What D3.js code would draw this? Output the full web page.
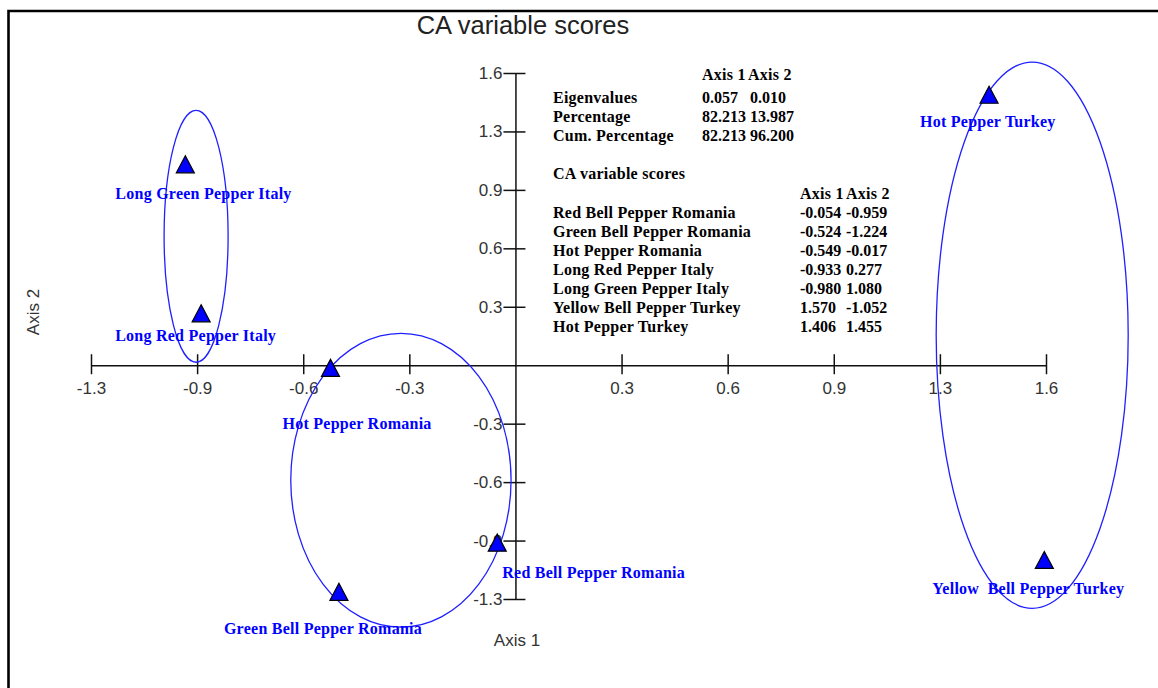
<!DOCTYPE html>
<html>
<head>
<meta charset="utf-8">
<script src="https://cdn.jsdelivr.net/npm/d3@7"></script>
<style>
  body { margin: 0; background: #fff; }
  svg { display: block; background: #fff; }
  .tick text { font-family: "Liberation Sans", Arial, sans-serif; font-size: 17px; fill: #333; }
  .ptlabel, .tbl { font-family: "Liberation Serif", "Times New Roman", serif; font-size: 16px; font-weight: bold; white-space: pre; letter-spacing: 0.25px; }
  .tbl .num { letter-spacing: 0; }
</style>
</head>
<body>
<svg></svg>
<script>
const width = 1158;
const height = 688;

// CA scores
const names = ["Red Bell Pepper Romania", "Green Bell Pepper Romania", "Hot Pepper Romania",
               "Long Red Pepper Italy", "Long Green Pepper Italy", "Yellow  Bell Pepper Turkey", "Hot Pepper Turkey"];
const axis1Scores = [-0.054, -0.524, -0.549, -0.933, -0.980, 1.570, 1.406];
const axis2Scores = [-0.959, -1.224, -0.017, 0.277, 1.080, -1.052, 1.455];

const summaryRows = ["Eigenvalues", "Percentage", "Cum. Percentage"];
const summaryAxis1 = [0.057, 82.213, 82.213];
const summaryAxis2 = [0.010, 13.987, 96.200];

// ticks (step ~0.315, labels as printed)
const tickValues = [-1.26, -0.945, -0.63, -0.315, 0.315, 0.63, 0.945, 1.26, 1.575];
const tickLabels = ["-1.3", "-0.9", "-0.6", "-0.3", "0.3", "0.6", "0.9", "1.3", "1.6"];

// group ellipses, in score units
const groupCentre1 = [-0.948, -0.340, 1.534];
const groupCentre2 = [0.695, -0.620, 0.162];
const groupRadius1 = [0.095, 0.327, 0.285];
const groupRadius2 = [0.679, 0.792, 1.472];

// label offsets from each point (px)
const labelDx = [5, -115, -48, -86, -70, -112, -69];
const labelDy = [35, 42, 61, 27, 34, 34, 32];

const blue = "#0000ff";

const svg = d3.select("svg")
  .attr("width", width)
  .attr("height", height);

const xScale = d3.scaleLinear()
  .domain([-1.26, 1.575])
  .range([91, 1046]);

const yScale = d3.scaleLinear()
  .domain([-1.26, 1.575])
  .range([599, 73]);

// frame (top and left only, cropped figure)
svg.append("path")
  .attr("d", `M8.5,${height} V11 H${width}`)
  .attr("fill", "none")
  .attr("stroke", "#000")
  .attr("stroke-width", 2.6);

svg.append("text")
  .attr("x", 523)
  .attr("y", 34)
  .attr("text-anchor", "middle")
  .style("font-family", "'Liberation Sans', Arial, sans-serif")
  .style("font-size", "25.5px")
  .style("fill", "#222")
  .text("CA variable scores");

const xAxis = d3.axisBottom(xScale)
  .tickValues(tickValues)
  .tickFormat((d, i) => tickLabels[i])
  .tickSizeOuter(0);

const yAxis = d3.axisLeft(yScale)
  .tickValues(tickValues)
  .tickFormat((d, i) => tickLabels[i])
  .tickSizeOuter(0);

const gx = svg.append("g")
  .attr("transform", `translate(0,${yScale(0)})`)
  .call(xAxis);
gx.select(".domain").attr("stroke", "#111").attr("stroke-width", 1.5);
gx.selectAll(".tick line").attr("y1", -11).attr("y2", 9).attr("stroke", "#111").attr("stroke-width", 1.5);
gx.selectAll(".tick text").attr("y", 29).attr("dy", 0);

const gy = svg.append("g")
  .attr("transform", `translate(${xScale(0)},0)`)
  .call(yAxis);
gy.select(".domain").attr("stroke", "#111").attr("stroke-width", 1.5);
gy.selectAll(".tick line").attr("x1", -12).attr("x2", 10).attr("stroke", "#111").attr("stroke-width", 1.5);
gy.selectAll(".tick text").attr("x", -13).attr("dy", "0.32em");

svg.append("text")
  .attr("x", 517)
  .attr("y", 646)
  .attr("text-anchor", "middle")
  .style("font-family", "'Liberation Sans', Arial, sans-serif")
  .style("font-size", "17px")
  .style("fill", "#333")
  .text("Axis 1");

svg.append("text")
  .attr("transform", "rotate(-90)")
  .attr("x", -312)
  .attr("y", 39)
  .attr("text-anchor", "middle")
  .style("font-family", "'Liberation Sans', Arial, sans-serif")
  .style("font-size", "17px")
  .style("fill", "#333")
  .text("Axis 2");

// ellipses round the groups
const pxPerUnitX = xScale(1) - xScale(0);
const pxPerUnitY = yScale(0) - yScale(1);
svg.append("g")
  .selectAll("ellipse")
  .data(groupCentre1)
  .enter()
  .append("ellipse")
    .attr("cx", d => xScale(d))
    .attr("cy", (d, i) => yScale(groupCentre2[i]))
    .attr("rx", (d, i) => groupRadius1[i] * pxPerUnitX)
    .attr("ry", (d, i) => groupRadius2[i] * pxPerUnitY)
    .attr("fill", "none")
    .attr("stroke", "#2020ff")
    .attr("stroke-width", 1.3);

// points
const pts = names.map((n, i) => ({ name: n, x: axis1Scores[i], y: axis2Scores[i], dx: labelDx[i], dy: labelDy[i] }));

svg.append("g")
  .selectAll("path")
  .data(pts)
  .enter()
  .append("path")
    .attr("d", d => {
      const cx = xScale(d.x), cy = yScale(d.y);
      return `M${cx},${cy - 9} L${cx + 9},${cy + 8} L${cx - 9},${cy + 8} Z`;
    })
    .attr("fill", blue)
    .attr("stroke", "#000")
    .attr("stroke-width", 1.2);

svg.append("g")
  .selectAll("text")
  .data(pts)
  .enter()
  .append("text")
    .classed("ptlabel", true)
    .attr("x", d => xScale(d.x) + d.dx)
    .attr("y", d => yScale(d.y) + d.dy)
    .attr("fill", blue)
    .text(d => d.name);

// info tables
const f3 = v => v.toFixed(3);
const tbl = svg.append("g").classed("tbl", true).attr("fill", "#000");
const rowH = 19;

tbl.append("text").attr("x", 702).attr("y", 80).text("Axis 1");
tbl.append("text").attr("x", 748).attr("y", 80).text("Axis 2");
summaryRows.forEach((r, i) => {
  const y = 103 + i * rowH;
  tbl.append("text").attr("x", 553).attr("y", y).text(r);
  tbl.append("text").classed("num", true).attr("x", 702).attr("y", y).text(f3(summaryAxis1[i]));
  tbl.append("text").classed("num", true).attr("x", 750).attr("y", y).text(f3(summaryAxis2[i]));
});

tbl.append("text").attr("x", 553).attr("y", 179).text("CA variable scores");
tbl.append("text").attr("x", 800).attr("y", 199).text("Axis 1");
tbl.append("text").attr("x", 846).attr("y", 199).text("Axis 2");
names.forEach((n, i) => {
  const y = 218 + i * rowH;
  tbl.append("text").attr("x", 553).attr("y", y).text(n);
  tbl.append("text").classed("num", true).attr("x", 800).attr("y", y).text(f3(axis1Scores[i]));
  tbl.append("text").classed("num", true).attr("x", 846).attr("y", y).text(f3(axis2Scores[i]));
});
</script>
</body>
</html>
